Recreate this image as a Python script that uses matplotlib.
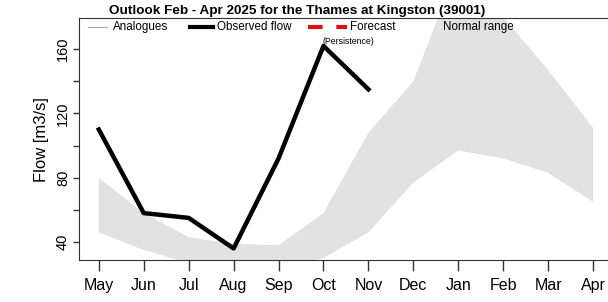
import matplotlib.pyplot as plt
import numpy as np

plt.rcParams['font.family'] = ['Liberation Sans', 'DejaVu Sans']

MONTHS = ["May", "Jun", "Jul", "Aug", "Sep", "Oct", "Nov", "Dec", "Jan", "Feb", "Mar", "Apr"]
OBSERVED = [110, 58, 55, 36, 92, 162, 135]
NORMAL_UPPER = [80, 58, 43, 39, 38, 58, 108, 140, 212, 180, 147, 111]
NORMAL_LOWER = [46, 35, 27, 22, 22, 30, 46, 77, 97, 92, 83, 65]

fig = plt.figure(figsize=(6.08, 3.02), dpi=100)
ax = fig.add_axes([0.130, 0.139, 0.878, 0.801])

x = np.arange(len(MONTHS))
ax.fill_between(x, NORMAL_LOWER, NORMAL_UPPER, color="#e2e2e2", linewidth=0, zorder=1)
ax.plot(x[:len(OBSERVED)], OBSERVED, color="black", linewidth=3.2, zorder=3)

ax.set_xlim(-0.44, 11.44)
ax.set_ylim(28.8, 179.3)
ax.set_xticks(x)
ax.set_xticklabels(MONTHS, fontsize=11.5)
ax.set_yticks(np.arange(40, 161, 20))
ax.set_yticklabels(["40", "", "80", "", "120", "", "160"], fontsize=10.5,
                   rotation=90, va="center")
ax.tick_params(axis="x", length=8, width=1, color="#333333", pad=5)
ax.tick_params(axis="y", length=4.5, width=1, color="#333333", pad=2)
for s in ["left", "bottom", "top"]:
    ax.spines[s].set_color("#333333")
ax.spines["right"].set_visible(False)
ax.set_ylabel("Flow [m3/s]", fontsize=12, labelpad=5)

fig.text(0.489, 0.963, "Outlook Feb - Apr 2025 for the Thames at Kingston (39001)",
         fontsize=9.7, fontweight="bold", ha="center", va="center")

# legend row drawn by hand along the top
trans = ax.transAxes
ly = 0.963
ax.plot([0.016, 0.053], [ly, ly], transform=trans, color="#aaaaaa", linewidth=0.8)
ax.text(0.064, ly, "Analogues", transform=trans, fontsize=8.4, va="center")
ax.plot([0.208, 0.251], [ly, ly], transform=trans, color="black", linewidth=3)
ax.text(0.258, ly, "Observed flow", transform=trans, fontsize=8.4, va="center")
ax.plot([0.429, 0.502], [ly, ly], transform=trans, color="#dd1111", linewidth=3,
        dashes=(3.5, 3.3))
ax.text(0.507, ly, "Forecast", transform=trans, fontsize=8.4, va="center")
ax.text(0.457, 0.905, "(Persistence)", transform=trans, fontsize=6.3, va="center")
ax.text(0.681, ly, "Normal range", transform=trans, fontsize=8.4, va="center")

fig.savefig("out.png", dpi=100)
